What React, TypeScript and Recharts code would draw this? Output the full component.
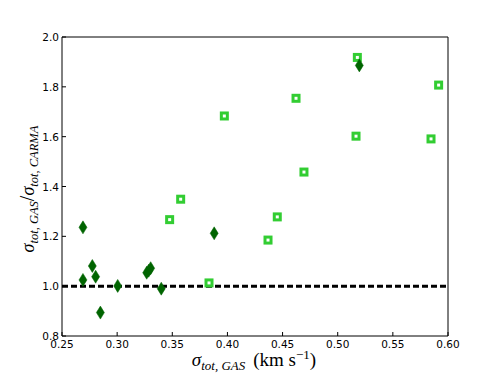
import { ScatterChart, Scatter, XAxis, YAxis } from "recharts";

const diamondX = [0.269, 0.269, 0.2775, 0.2805, 0.2848, 0.3005, 0.3268, 0.3286, 0.3304, 0.340, 0.388, 0.5196];
const diamondY = [1.236, 1.025, 1.081, 1.038, 0.894, 1.001, 1.054, 1.062, 1.072, 0.990, 1.212, 1.886];

const squareX = [0.3476, 0.3576, 0.3833, 0.3972, 0.5178, 0.5915, 0.4622, 0.5166, 0.5846, 0.4694, 0.4452, 0.4368];
const squareY = [1.267, 1.349, 1.013, 1.683, 1.918, 1.807, 1.754, 1.602, 1.591, 1.458, 1.278, 1.185];

const unityX = [0.25, 0.6];
const unityY = [1.0, 1.0];

const xTicks = [0.25, 0.3, 0.35, 0.4, 0.45, 0.5, 0.55, 0.6];
const yTicks = [0.8, 1.0, 1.2, 1.4, 1.6, 1.8, 2.0];

const diamonds = diamondX.map((x, i) => ({ x, y: diamondY[i] }));
const squares = squareX.map((x, i) => ({ x, y: squareY[i] }));
const unity = unityX.map((x, i) => ({ x, y: unityY[i] }));

const tickFont = "DejaVu Sans, sans-serif";
const mathFont = "Liberation Serif, DejaVu Serif, serif";

function Diamond(props: any) {
  const { cx, cy } = props;
  return (
    <path
      d={`M${cx},${cy - 6.5} L${cx + 4},${cy} L${cx},${cy + 6.5} L${cx - 4},${cy} Z`}
      fill="#006400"
      stroke="#006400"
      strokeWidth={0.5}
    />
  );
}

function OpenSquare(props: any) {
  const { cx, cy } = props;
  return <rect x={cx - 3} y={cy - 3} width={6} height={6} fill="#fff" stroke="#32cd32" strokeWidth={3} />;
}

function BottomTick(props: any) {
  const { x, y, payload } = props;
  return (
    <g>
      <line x1={x} y1={y} x2={x} y2={y - 4} stroke="#000" />
      <text x={x} y={y + 12} textAnchor="middle" fontSize={10.5} fontFamily={tickFont} fill="#000">
        {payload.value.toFixed(2)}
      </text>
    </g>
  );
}

function LeftTick(props: any) {
  const { x, y, payload } = props;
  return (
    <g>
      <line x1={x} y1={y} x2={x + 4} y2={y} stroke="#000" />
      <text x={x - 3} y={y + 4} textAnchor="end" fontSize={10.5} fontFamily={tickFont} fill="#000">
        {payload.value.toFixed(1)}
      </text>
    </g>
  );
}

function TopTick(props: any) {
  const { x, y } = props;
  return <line x1={x} y1={y} x2={x} y2={y + 4} stroke="#000" />;
}

function RightTick(props: any) {
  const { x, y } = props;
  return <line x1={x} y1={y} x2={x - 4} y2={y} stroke="#000" />;
}

export default function App() {
  return (
    <div style={{ position: "absolute", left: 0, top: 0, width: 498, height: 374, background: "#fff" }}>
      <ScatterChart width={498} height={374} margin={{ top: 0, right: 0, bottom: 0, left: 0 }}>
        <XAxis
          xAxisId="b"
          type="number"
          dataKey="x"
          domain={[0.25, 0.6]}
          ticks={xTicks}
          orientation="bottom"
          height={38}
          tickSize={0}
          tickMargin={0}
          tickLine={false}
          tick={<BottomTick />}
          axisLine={{ stroke: "#000" }}
          interval={0}
        />
        <XAxis
          xAxisId="t"
          type="number"
          dataKey="x"
          domain={[0.25, 0.6]}
          ticks={xTicks}
          orientation="top"
          height={37}
          tickSize={0}
          tickMargin={0}
          tickLine={false}
          tick={<TopTick />}
          axisLine={{ stroke: "#000" }}
          interval={0}
        />
        <YAxis
          yAxisId="l"
          type="number"
          dataKey="y"
          domain={[0.8, 2.0]}
          ticks={yTicks}
          orientation="left"
          width={62}
          tickSize={0}
          tickMargin={0}
          tickLine={false}
          tick={<LeftTick />}
          axisLine={{ stroke: "#000" }}
          interval={0}
        />
        <YAxis
          yAxisId="r"
          type="number"
          dataKey="y"
          domain={[0.8, 2.0]}
          ticks={yTicks}
          orientation="right"
          width={50}
          tickSize={0}
          tickMargin={0}
          tickLine={false}
          tick={<RightTick />}
          axisLine={{ stroke: "#000" }}
          interval={0}
        />
        <Scatter
          xAxisId="b"
          yAxisId="l"
          data={unity}
          line={{ stroke: "#000", strokeWidth: 3, strokeDasharray: "6 3" }}
          shape={() => <g />}
          isAnimationActive={false}
        />
        <Scatter xAxisId="b" yAxisId="l" data={squares} shape={<OpenSquare />} isAnimationActive={false} />
        <Scatter xAxisId="b" yAxisId="l" data={diamonds} shape={<Diamond />} isAnimationActive={false} />
        <text
          x={254}
          y={366}
          textAnchor="middle"
          fontFamily={mathFont}
          fill="#000"
          fontSize={19}
        >
          <tspan fontStyle="italic">σ</tspan>
          <tspan fontStyle="italic" fontSize={13} dy={4}>tot, GAS</tspan>
          <tspan dy={-4} dx={8}>(km s</tspan>
          <tspan fontSize={13} dy={-7}>−1</tspan>
          <tspan dy={7}>)</tspan>
        </text>
        <text
          transform="translate(34,189) rotate(-90)"
          textAnchor="middle"
          fontFamily={mathFont}
          fill="#000"
          fontSize={18}
        >
          <tspan fontStyle="italic">σ</tspan>
          <tspan fontStyle="italic" fontSize={12.5} dy={4}>tot, GAS</tspan>
          <tspan dy={-4} fontSize={20}>/</tspan>
          <tspan fontStyle="italic">σ</tspan>
          <tspan fontStyle="italic" fontSize={12.5} dy={4}>tot, CARMA</tspan>
        </text>
      </ScatterChart>
    </div>
  );
}
